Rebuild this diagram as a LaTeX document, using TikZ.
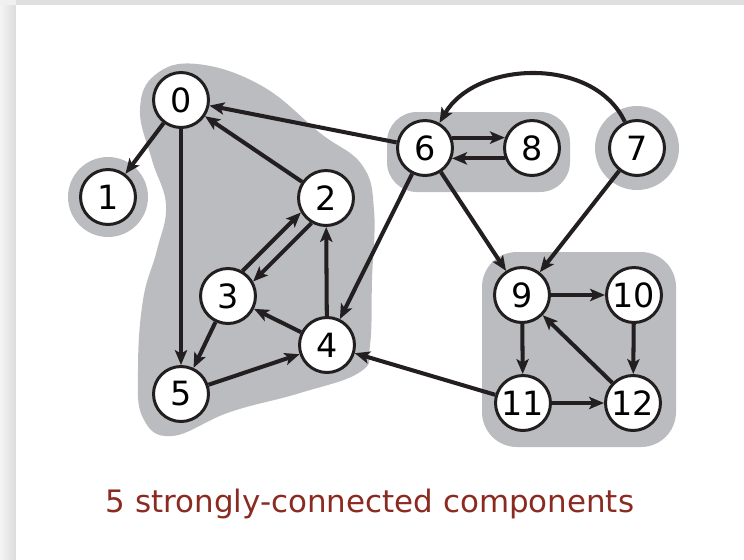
\documentclass[tikz,border=0pt]{standalone}
\usepackage{fontspec}
\setmainfont{DejaVu Sans}
\usepackage{xcolor}
\usepackage{tikz}
\usetikzlibrary{arrows.meta}

\definecolor{sccgray}{RGB}{187,188,192}
\definecolor{captionred}{RGB}{139,42,32}
\definecolor{inkblack}{RGB}{35,31,32}
\tikzset{vert/.style={circle,draw=inkblack,fill=white,line width=1.7pt,minimum size=1.1cm,inner sep=0pt,font=\fontsize{19}{22}\selectfont}}

\begin{document}
\begin{tikzpicture}[x=0.02cm,y=-0.02cm]
		\useasboundingbox (0,0) rectangle (744,559);
		% slide
		\fill[gray!12] (0,0) rectangle (744,559);
		\shade[left color=gray!8,right color=gray!28] (0,5) rectangle (16,559);
		\fill[gray!25] (16,0) rectangle (744,5);
		\fill[white] (16,5) rectangle (744,559);
		% components
		\fill[sccgray] plot[smooth cycle,tension=0.7] coordinates {(197,64) (262,86) (320,133) (362,165) (374,210) (372,280) (370,345) (360,372) (300,393) (230,412) (172,436) (143,418) (138,370) (143,300) (157,250) (166,205) (152,160) (140,110) (155,75)};
		\fill[sccgray] (108,197) circle[radius=0.8cm];
		\fill[sccgray] (637,148) circle[radius=0.84cm];
		\fill[sccgray,rounded corners=0.6cm] (387,112) rectangle (570,192);
		\fill[sccgray,rounded corners=0.7cm] (482,252) rectangle (676,447);
		%
		\node[vert] (v0) at (181,100) {0};
		\node[vert] (v1) at (108,197) {1};
		\node[vert] (v2) at (326,198) {2};
		\node[vert] (v3) at (228,296) {3};
		\node[vert] (v4) at (327,345) {4};
		\node[vert] (v5) at (181,394) {5};
		\node[vert] (v6) at (425,148) {6};
		\node[vert] (v8) at (532,148) {8};
		\node[vert] (v7) at (637,148) {7};
		\node[vert] (v9) at (522,295) {9};
		\node[vert] (v10) at (634,295) {10};
		\node[vert] (v11) at (523,403) {11};
		\node[vert] (v12) at (633,403) {12};
		%
		\path[->,color=inkblack,line width=2.3pt,>={Stealth[length=8.5pt,width=7pt,inset=2pt]}]
		(v0) edge (v1)
		(v0) edge (v5)
		(v2) edge (v0)
		(v6) edge (v0)
		(v3.60) edge (v2.210)
		(v2.240) edge (v3.30)
		(v4) edge (v2)
		(v4) edge (v3)
		(v3) edge (v5)
		(v5) edge (v4)
		(v6) edge (v4)
		(v6.21) edge (v8.159)
		(v8.-159) edge (v6.-21)
		(v6) edge (v9)
		(v7) edge (v9)
		(v7) edge[out=115,in=60] (v6)
		(v9) edge (v10)
		(v9) edge (v11)
		(v10) edge (v12)
		(v11) edge (v12)
		(v12) edge (v9)
		(v11) edge (v4);
		%
		\node[text=captionred,font=\fontsize{17.6}{21}\selectfont,anchor=base] (cap) at (370,512) {5 strongly-connected components};
	\end{tikzpicture}
\end{document}
